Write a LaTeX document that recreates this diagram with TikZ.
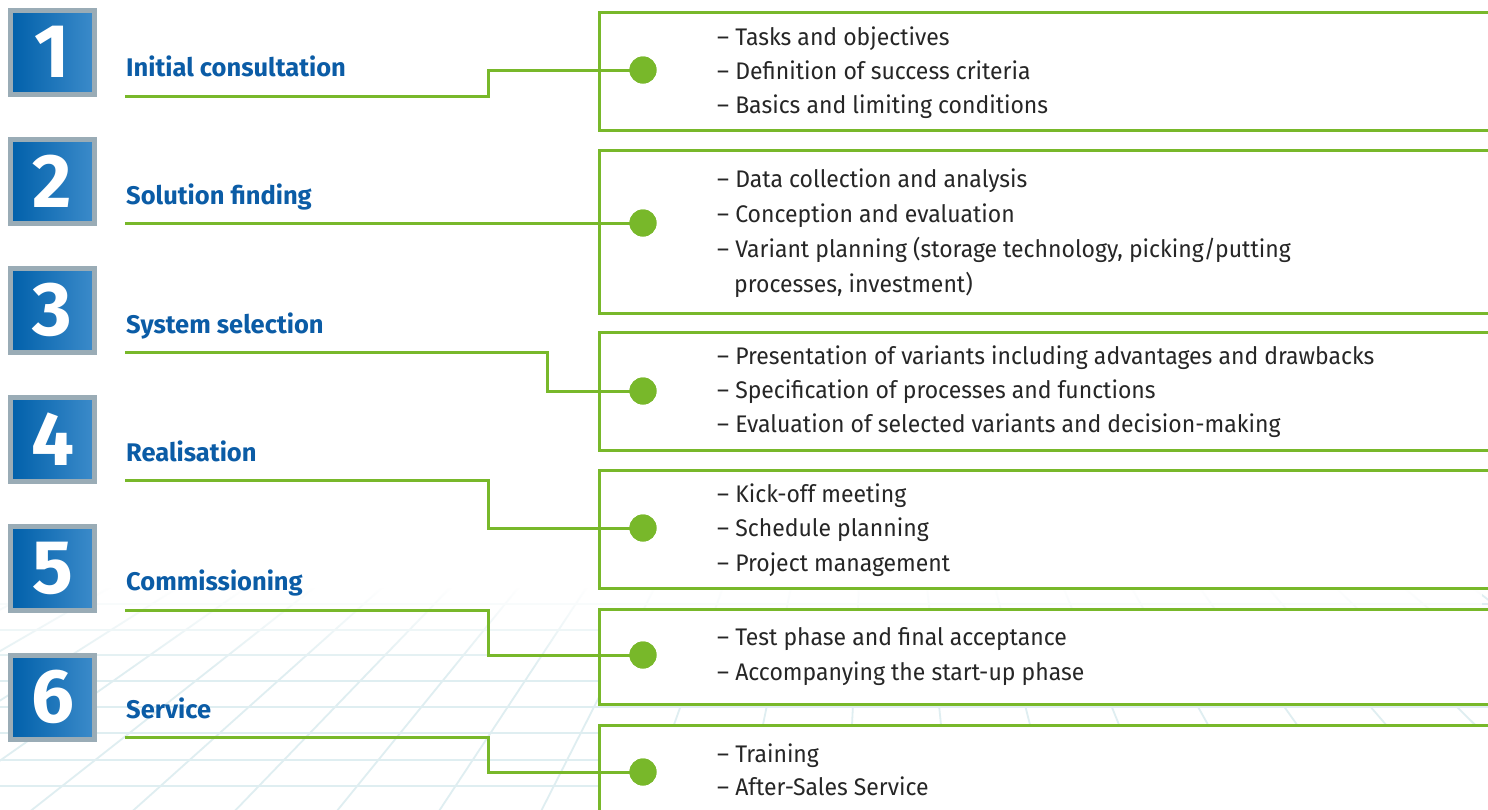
\documentclass[tikz,border=0pt]{standalone}
\usepackage{fontspec}
\setmainfont{Fira Sans}[FakeStretch=0.958]
\newfontfamily\labfont{Fira Sans}
\newfontfamily\digfont{Fira Sans}
\usetikzlibrary{calc,fadings}
\definecolor{lgreen}{HTML}{78B82A}
\definecolor{lblue}{HTML}{0B5CA6}
\definecolor{txt}{HTML}{262626}
\definecolor{gridc}{HTML}{DFEEF1}
\definecolor{boxgray}{HTML}{9AACB6}
\definecolor{blA}{HTML}{0060AA}
\definecolor{blB}{HTML}{3C8BCA}
\tikzset{
  numbox/.style={draw=boxgray, line width=5pt, minimum size=84pt, inner sep=0pt,
    left color=blA, right color=blB, text=white,
    font=\digfont\bfseries\fontsize{76}{76}\selectfont},
  lab/.style={anchor=base west, inner sep=0pt, text=lblue,
    font=\labfont\bfseries\fontsize{25.5}{25.5}\selectfont},
  item/.style={anchor=base west, inner sep=0pt, text=txt,
    font=\fontsize{24}{24}\selectfont},
  panel/.style={draw=lgreen, line width=3pt, fill=white},
  conn/.style={draw=lgreen, line width=3pt},
  dot/.style={circle, fill=lgreen, minimum size=27pt, inner sep=0pt},
  gridline/.style={draw=gridc, line width=1.8pt}
}
\begin{document}
\begin{tikzpicture}[x=1pt,y=-1pt]
\clip (0,0) rectangle (1488,809);
\fill[white] (0,0) rectangle (1488,809);
% background perspective grid
\begin{scope}
  \clip (0,588) rectangle (1488,809);
  \foreach \k in {-16,...,8}
    \draw[gridline] (882,140) -- ($(882,140)!3!({1025+86*\k},705)$);
  \foreach \yy in {604,630,655,681,707,733,760,786}
    \draw[gridline] (0,\yy) -- (1488,\yy);
  \fill[white, path fading=south] (0,586) rectangle (1488,670);
\end{scope}
% panels
\node[panel, anchor=north west, minimum width=920pt, minimum height=118pt] (p1) at (598,11) {};
\node[panel, anchor=north west, minimum width=920pt, minimum height=163pt] (p2) at (598,149) {};
\node[panel, anchor=north west, minimum width=920pt, minimum height=118pt] (p3) at (598,331) {};
\node[panel, anchor=north west, minimum width=920pt, minimum height=118pt] (p4) at (598,469) {};
\node[panel, anchor=north west, minimum width=920pt, minimum height=95pt] (p5) at (598,608) {};
\node[panel, anchor=north west, minimum width=920pt, minimum height=120pt] (p6) at (598,724) {};
% number boxes
\node[numbox] (n1) at (52.5,52) {1};
\node[numbox] (n2) at (52.5,181) {2};
\node[numbox] (n3) at (52.5,310) {3};
\node[numbox] (n4) at (52.5,439) {4};
\node[numbox] (n5) at (52.5,568) {5};
\node[numbox] (n6) at (52.5,697) {6};
% labels
\node[lab] (l1) at (126,76) {Initial consultation};
\node[lab] (l2) at (126,204) {Solution finding};
\node[lab] (l3) at (126,333) {System selection};
\node[lab] (l4) at (126,461) {Realisation};
\node[lab] (l5) at (126,590) {Commissioning};
\node[lab] (l6) at (126,718) {Service};
% dots
\node[dot] (d1) at (643,70) {};
\node[dot] (d2) at (643,223) {};
\node[dot] (d3) at (643,391) {};
\node[dot] (d4) at (643,528) {};
\node[dot] (d5) at (643,655) {};
\node[dot] (d6) at (643,772) {};
% connectors
\coordinate (u1) at (125,96);  \coordinate (s1) at (488,80);
\coordinate (u2) at (125,223);
\coordinate (u3) at (125,352); \coordinate (s3) at (547,370);
\coordinate (u4) at (125,480); \coordinate (s4) at (488,500);
\coordinate (u5) at (125,610); \coordinate (s5) at (488,630);
\coordinate (u6) at (125,737); \coordinate (s6) at (488,750);
\draw[conn] (u1) -| (s1) |- (d1.center);
\draw[conn] (u2) -- (d2.center);
\draw[conn] (u3) -| (s3) |- (d3.center);
\draw[conn] (u4) -| (s4) |- (d4.center);
\draw[conn] (u5) -| (s5) |- (d5.center);
\draw[conn] (u6) -| (s6) |- (d6.center);
\foreach \i in {1,...,6} \node[dot] at (d\i) {};
% items
\node[item] (t11) at (717,45) {– Tasks and objectives};
\node[item] (t12) at (717,79) {– Definition of success criteria};
\node[item] (t13) at (717,113) {– Basics and limiting conditions};
\node[item] (t21) at (717,187) {– Data collection and analysis};
\node[item] (t22) at (717,222) {– Conception and evaluation};
\node[item] (t23) at (717,257) {– Variant planning (storage technology, picking/putting};
\node[item] (t24) at (734,292) {processes, investment)};
\node[item] (t31) at (717,364) {– Presentation of variants including advantages and drawbacks};
\node[item] (t32) at (717,398) {– Specification of processes and functions};
\node[item] (t33) at (717,432) {– Evaluation of selected variants and decision-making};
\node[item] (t41) at (717,502) {– Kick-off meeting};
\node[item] (t42) at (717,536) {– Schedule planning};
\node[item] (t43) at (717,571) {– Project management};
\node[item] (t51) at (717,645) {– Test phase and final acceptance};
\node[item] (t52) at (717,680) {– Accompanying the start-up phase};
\node[item] (t61) at (717,762) {– Training};
\node[item] (t62) at (717,795) {– After-Sales Service};
\end{tikzpicture}
\end{document}
